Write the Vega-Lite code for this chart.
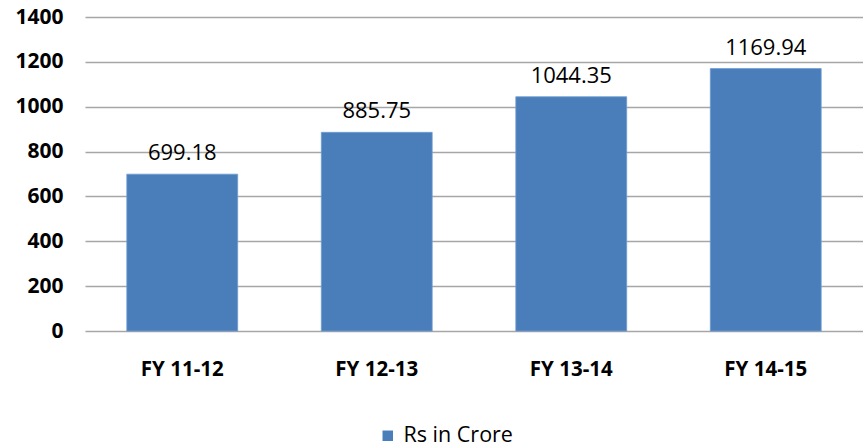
{
  "$schema": "https://vega.github.io/schema/vega-lite/v6.json",
  "width": 778,
  "height": 314,
  "autosize": "none",
  "padding": {"left": 85, "top": 17, "right": 0, "bottom": 117},
  "background": "white",
  "config": {"view": {"stroke": null}, "font": "Open Sans"},
  "data": {"values": [
    {"year": "FY 11-12", "value": 699.18, "series": "Rs in Crore"},
    {"year": "FY 12-13", "value": 885.75, "series": "Rs in Crore"},
    {"year": "FY 13-14", "value": 1044.35, "series": "Rs in Crore"},
    {"year": "FY 14-15", "value": 1169.94, "series": "Rs in Crore"}
  ]},
  "encoding": {
    "x": {"field": "year", "type": "nominal", "sort": null,
      "scale": {"paddingInner": 0.43, "paddingOuter": 0.215},
      "axis": {"title": null, "labelAngle": 0, "domain": false, "ticks": false, "labelPadding": 28,
        "labelFont": "Open Sans", "labelFontWeight": "bold", "labelFontSize": 20.5, "labelColor": "#000000"}},
    "y": {"field": "value", "type": "quantitative",
      "scale": {"domain": [0, 1400], "nice": false},
      "axis": {"title": null, "values": [0, 200, 400, 600, 800, 1000, 1200, 1400], "format": "d", "domain": false, "ticks": false,
        "labelPadding": 22, "gridColor": "#a6a6a6", "gridWidth": 1.5, "gridOpacity": 1,
        "labelFont": "Open Sans", "labelFontWeight": "bold", "labelFontSize": 21, "labelColor": "#000000"}}
  },
  "layer": [
    {"mark": {"type": "bar", "stroke": "#6f9ad0", "strokeWidth": 0.8},
      "encoding": {"color": {"field": "series", "type": "nominal",
        "scale": {"range": ["#4a7ebb"]},
        "legend": {"title": null, "orient": "none", "legendX": 292, "legendY": 408, "symbolType": "square",
          "symbolSize": 110, "symbolStrokeWidth": 0, "labelFont": "Open Sans", "labelFontSize": 21.5, "labelColor": "#000000", "labelOffset": 5}}}},
    {"mark": {"type": "text", "baseline": "bottom", "dy": -9, "fontSize": 22, "font": "Open Sans", "color": "#000000"},
      "encoding": {"text": {"field": "value", "type": "quantitative", "format": ".2f"}}}
  ]
}
